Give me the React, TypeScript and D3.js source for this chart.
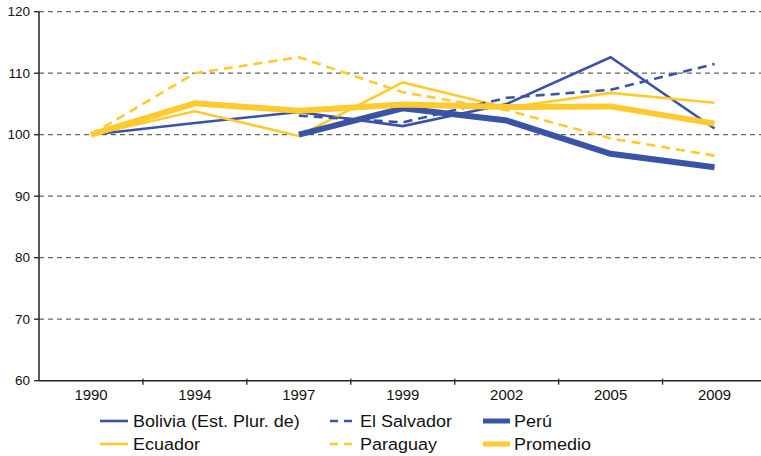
import React from "react";
import * as d3 from "d3";

const years = ["1990", "1994", "1997", "1999", "2002", "2005", "2009"];
const yTicks = [60, 70, 80, 90, 100, 110, 120];

const bolivia = [100, 101.9, 103.7, 101.4, 105.0, 112.6, 101.0];
const ecuador = [100, 103.8, 99.8, 108.5, 104.4, 106.8, 105.2];
const elSalvador = [null, null, 103.1, 102.0, 106.0, 107.3, 111.5];
const paraguay = [100, 110.0, 112.6, 106.9, 104.0, 99.4, 96.6];
const peru = [null, null, 100, 104.3, 102.3, 96.9, 94.7];
const promedio = [100, 105.1, 103.9, 104.9, 104.5, 104.6, 101.8];

const BLUE = "#3a53a4";
const YELLOW = "#ffca2e";

const series = [
  { name: "Bolivia (Est. Plur. de)", values: bolivia, color: BLUE, width: 2.6, dash: null },
  { name: "Ecuador", values: ecuador, color: YELLOW, width: 2.6, dash: null },
  { name: "El Salvador", values: elSalvador, color: BLUE, width: 2.6, dash: "9,6" },
  { name: "Paraguay", values: paraguay, color: YELLOW, width: 2.6, dash: "9,6" },
  { name: "Perú", values: peru, color: BLUE, width: 6, dash: null },
  { name: "Promedio", values: promedio, color: YELLOW, width: 6, dash: null },
];

// legend layout: two rows, three columns
const legendOrder = [
  ["Bolivia (Est. Plur. de)", "El Salvador", "Perú"],
  ["Ecuador", "Paraguay", "Promedio"],
];
const legendCols = [
  { x0: 100, x1: 128, tx: 133 },
  { x0: 330, x1: 355, tx: 360 },
  { x0: 483, x1: 510, tx: 514 },
];
const legendRows = [421, 444];

const W = 761;
const H = 456;
const axisX = 39;

const App = () => {
  const x = d3.scaleBand<string>().domain(years).range([axisX, 766.5]);
  const y = d3.scaleLinear().domain([60, 120]).range([380.7, 11.7]);
  const cx = (yr: string) => (x(yr) as number) + x.bandwidth() / 2;

  const line = d3
    .line<number | null>()
    .defined(d => d != null)
    .x((_, i) => cx(years[i]))
    .y(d => y(d as number));

  const font = "'Liberation Sans', Arial, sans-serif";

  return (
    <svg
      width={W}
      height={H}
      style={{ position: "absolute", left: 0, top: 0, background: "#fff" }}
      fontFamily={font}
    >
      {/* grid */}
      {yTicks.filter(t => t > 60).map(t => (
        <line
          key={t}
          x1={axisX}
          x2={W}
          y1={y(t)}
          y2={y(t)}
          stroke="#666"
          strokeWidth={1.3}
          strokeDasharray="5,4"
        />
      ))}

      {/* y axis */}
      <line x1={axisX} x2={axisX} y1={y(120)} y2={y(60)} stroke="#222" strokeWidth={1.5} />
      {yTicks.map(t => (
        <g key={t}>
          <line x1={axisX - 5} x2={axisX} y1={y(t)} y2={y(t)} stroke="#222" strokeWidth={1.3} />
          <text x={axisX - 9} y={y(t)} dy="0.35em" textAnchor="end" fontSize={13.5} fill="#111">
            {t}
          </text>
        </g>
      ))}

      {/* x axis */}
      <line x1={axisX} x2={W} y1={y(60)} y2={y(60)} stroke="#222" strokeWidth={1.5} />
      {years.map((yr, i) => (
        <g key={yr}>
          {i > 0 && (
            <line
              x1={x(yr)}
              x2={x(yr)}
              y1={y(60) - 2}
              y2={y(60) + 4}
              stroke="#222"
              strokeWidth={1.3}
            />
          )}
          <text
            transform={`translate(${cx(yr)},${y(60) + 14}) scale(1.08,1)`}
            dy="0.35em"
            textAnchor="middle"
            fontSize={13.8}
            fill="#111"
          >
            {yr}
          </text>
        </g>
      ))}

      {/* series */}
      {series.map(s => (
        <path
          key={s.name}
          d={line(s.values) || ""}
          fill="none"
          stroke={s.color}
          strokeWidth={s.width}
          strokeDasharray={s.dash || undefined}
          strokeLinejoin="miter"
        />
      ))}

      {/* legend */}
      {legendOrder.map((row, ri) =>
        row.map((name, ci) => {
          const s = series.find(d => d.name === name)!;
          const col = legendCols[ci];
          const ly = legendRows[ri];
          return (
            <g key={name}>
              <line
                x1={col.x0}
                x2={col.x1}
                y1={ly}
                y2={ly}
                stroke={s.color}
                strokeWidth={s.width > 3 ? 5 : 2.6}
                strokeDasharray={s.dash ? "8,6" : undefined}
              />
              <text
                transform={`translate(${col.tx},${ly}) scale(1.09,1)`}
                dy="0.35em"
                fontSize={16.5}
                fill="#111"
              >
                {name}
              </text>
            </g>
          );
        })
      )}
    </svg>
  );
};

export default App;
